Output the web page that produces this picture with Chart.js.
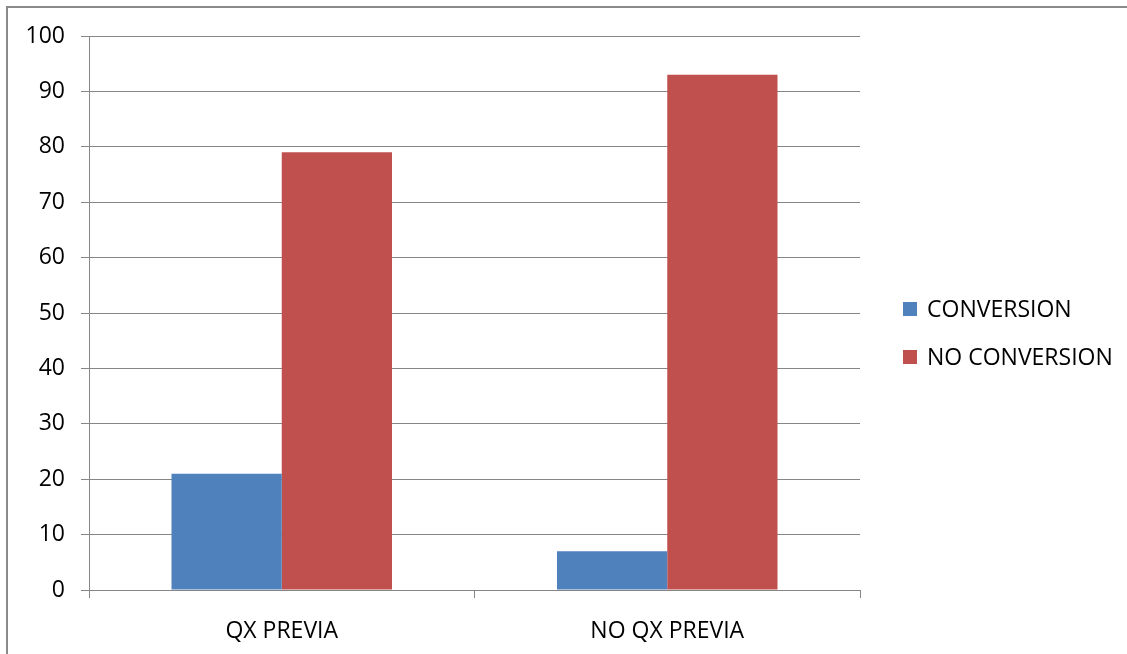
<!DOCTYPE html>
<html>
<head>
<meta charset="utf-8">
<script src="https://cdn.jsdelivr.net/npm/chart.js@4"></script>
<style>
  html, body { margin: 0; padding: 0; background: #fff; overflow: hidden; }
  #wrap { position: absolute; left: 0; top: 0; width: 1127px; height: 654px; }
  #frame { position: absolute; left: 6px; top: 6px; width: 1140px; height: 670px;
           border: 2px solid #8a8a8a; box-sizing: border-box; }
  canvas { position: absolute; left: 0; top: 0; }
</style>
</head>
<body>
<div id="wrap">
  <div id="frame"></div>
  <canvas id="c" width="1127" height="654"></canvas>
</div>
<script>
const categories = ['QX PREVIA', 'NO QX PREVIA'];
const conversion = [21, 7];
const noConversion = [79, 93];
const seriesNames = ['CONVERSION', 'NO CONVERSION'];
const seriesColors = ['#4F81BD', '#C0504D'];

const FONT = '"Open Sans", "Liberation Sans", sans-serif';
const FONT_SIZE = 23;

// Legend drawn beside the plot, square swatch + label for each series
const sideLegend = {
  id: 'sideLegend',
  afterDraw(chart) {
    const ctx = chart.ctx;
    const area = chart.chartArea;
    const x0 = area.right + 43;
    const yMid = 333;
    const gap = 48;
    const n = chart.data.datasets.length;
    ctx.save();
    ctx.font = FONT_SIZE + 'px ' + FONT;
    ctx.textBaseline = 'middle';
    ctx.textAlign = 'left';
    chart.data.datasets.forEach((ds, i) => {
      const y = yMid + (i - (n - 1) / 2) * gap;
      ctx.fillStyle = ds.backgroundColor;
      ctx.fillRect(x0, y - 7, 14, 14);
      ctx.fillStyle = '#000';
      ctx.fillText(ds.label, x0 + 24, y + 1);
    });
    ctx.restore();
  }
};

new Chart(document.getElementById('c'), {
  type: 'bar',
  data: {
    labels: categories,
    datasets: [
      { label: seriesNames[0], data: conversion, backgroundColor: seriesColors[0] },
      { label: seriesNames[1], data: noConversion, backgroundColor: seriesColors[1] }
    ]
  },
  options: {
    responsive: false,
    animation: false,
    devicePixelRatio: 1,
    layout: { padding: { left: 0, top: 36, right: 267, bottom: 0 } },
    datasets: { bar: { categoryPercentage: 0.572, barPercentage: 1.0 } },
    plugins: { legend: { display: false }, tooltip: { enabled: false } },
    scales: {
      x: {
        offset: true,
        grid: { offset: true, drawOnChartArea: false, drawTicks: true, tickLength: 8, color: '#868686' },
        border: { color: '#868686', width: 1 },
        ticks: { color: '#000', font: { family: FONT, size: FONT_SIZE }, padding: 20 },
        afterFit(scale) { scale.height = 64; }
      },
      y: {
        min: 0, max: 100,
        grid: { color: '#868686', tickLength: 8, lineWidth: 1 },
        border: { color: '#868686', width: 1 },
        ticks: { stepSize: 10, color: '#000', font: { family: FONT, size: FONT_SIZE }, padding: 16 },
        afterFit(scale) { scale.width = 89; }
      }
    }
  },
  plugins: [sideLegend]
});
</script>
</body>
</html>
